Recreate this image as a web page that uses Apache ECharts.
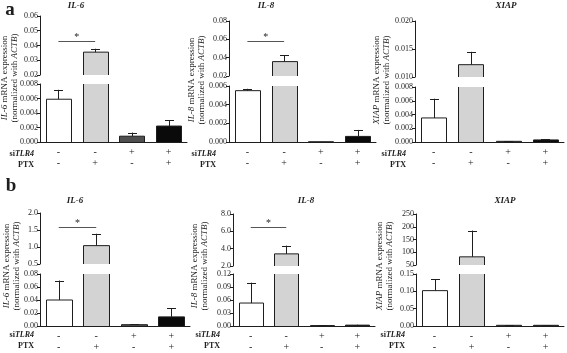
<!DOCTYPE html>
<html>
<head>
<meta charset="utf-8">
<script src="https://cdn.jsdelivr.net/npm/echarts@6/dist/echarts.min.js"></script>
<style>html,body{margin:0;padding:0;background:#fff}#c{width:567px;height:353px}</style>
</head>
<body>
<div id="c"></div>
<script>
// ---------- data ----------
const conditions = ['C1', 'C2', 'C3', 'C4'];
const siTLR4 = ['-', '-', '+', '+'];
const PTX = ['-', '+', '-', '+'];

// panel a
const aIL6Mean = [0.0059, 0.0355, 0.0008, 0.0022];
const aIL6Err = [0.0013, 0.0023, 0.0005, 0.0008];
const aIL6TopTicks = [0.02, 0.03, 0.04, 0.05, 0.06];
const aIL6BotTicks = [0, 0.002, 0.004, 0.006, 0.008];
const aIL6Sig = [0, 1, 0.043];

const aIL8Mean = [0.0055, 0.0357, 0.00003, 0.0006];
const aIL8Err = [0.0002, 0.0072, 0.00002, 0.0007];
const aIL8TopTicks = [0.02, 0.04, 0.06, 0.08];
const aIL8BotTicks = [0, 0.002, 0.004, 0.006];
const aIL8Sig = [0, 1, 0.058];

const aXIAPMean = [0.0035, 0.0122, 0.0001, 0.0003];
const aXIAPErr = [0.0028, 0.0023, 0.00005, 0.0001];
const aXIAPTopTicks = [0.010, 0.015, 0.020];
const aXIAPBotTicks = [0, 0.002, 0.004, 0.006, 0.008];

// panel b
const bIL6Mean = [0.040, 1.04, 0.002, 0.014];
const bIL6Err = [0.030, 0.35, 0.001, 0.013];
const bIL6TopTicks = [0.5, 1.0, 1.5, 2.0];
const bIL6BotTicks = [0, 0.02, 0.04, 0.06, 0.08];
const bIL6Sig = [0, 1, 1.6];

const bIL8Mean = [0.053, 3.4, 0.001, 0.002];
const bIL8Err = [0.047, 0.95, 0.0005, 0.001];
const bIL8TopTicks = [2, 4, 6, 8];
const bIL8BotTicks = [0, 0.03, 0.06, 0.09, 0.12];
const bIL8Sig = [0, 1, 6.5];

const bXIAPMean = [0.102, 82, 0.002, 0.002];
const bXIAPErr = [0.033, 103, 0.0005, 0.0005];
const bXIAPTopTicks = [50, 100, 150, 200, 250];
const bXIAPBotTicks = [0, 0.05, 0.10, 0.15];

// ---------- styling / layout ----------
const SERIF = '"Liberation Serif", "Times New Roman", serif';
const INK = '#1e1e1e';
const BAR_COLORS = ['#ffffff', '#d3d3d3', '#4f4f4f', '#0a0a0a'];

const panels = [
  {title: 'IL-6', mean: aIL6Mean, err: aIL6Err, top: aIL6TopTicks, bot: aIL6BotTicks, topDec: 2, botDec: 3, sig: aIL6Sig,
   left: 40, width: 147, y1: 16, y2: 75, y3: 84, y4: 142, nameX: 10, nameY: 78, titleX: 76, titleY: 6, rowRight: 34, rowY: 154},
  {title: 'IL-8', mean: aIL8Mean, err: aIL8Err, top: aIL8TopTicks, bot: aIL8BotTicks, topDec: 2, botDec: 3, sig: aIL8Sig,
   left: 229, width: 147, y1: 21, y2: 76, y3: 86, y4: 142, nameX: 197, nameY: 80, titleX: 266, titleY: 6, rowRight: 216, rowY: 154},
  {title: 'XIAP', mean: aXIAPMean, err: aXIAPErr, top: aXIAPTopTicks, bot: aXIAPBotTicks, topDec: 3, botDec: 3, sig: null,
   left: 415, width: 149, y1: 21, y2: 77, y3: 87, y4: 142, nameX: 382, nameY: 80, titleX: 506, titleY: 6, rowRight: 406, rowY: 154},
  {title: 'IL-6', mean: bIL6Mean, err: bIL6Err, top: bIL6TopTicks, bot: bIL6BotTicks, topDec: 1, botDec: 2, sig: bIL6Sig,
   left: 40, width: 150, y1: 213, y2: 264, y3: 274, y4: 326, nameX: 12, nameY: 266, titleX: 75, titleY: 201, rowRight: 34, rowY: 335},
  {title: 'IL-8', mean: bIL8Mean, err: bIL8Err, top: bIL8TopTicks, bot: bIL8BotTicks, topDec: 1, botDec: 2, sig: bIL8Sig,
   left: 233, width: 142, y1: 214, y2: 266, y3: 274, y4: 326, nameX: 200, nameY: 266, titleX: 306, titleY: 201, rowRight: 220, rowY: 335},
  {title: 'XIAP', mean: bXIAPMean, err: bXIAPErr, top: bXIAPTopTicks, bot: bXIAPBotTicks, topDec: 0, botDec: 2, sig: null,
   left: 416, width: 148, y1: 214, y2: 265, y3: 274, y4: 326, nameX: 385, nameY: 266, titleX: 505, titleY: 201, rowRight: 405, rowY: 335}
];

function fontStr(st, wt, sz) { return st + ' ' + wt + ' ' + sz + 'px ' + SERIF; }
function tok(st, wt, sz, lh) {
  return {fontStyle: st, fontWeight: wt, fontSize: sz, fontFamily: SERIF, font: fontStr(st, wt, sz), fill: INK, lineHeight: lh || sz + 1};
}
function textEl(opt) {
  const st = opt.st || 'normal', wt = opt.wt || 'normal', sz = opt.sz || 8;
  return {
    type: 'text', x: opt.x, y: opt.y, rotation: opt.rot || 0, silent: true,
    style: {
      text: opt.text, x: 0, y: 0, fill: INK,
      fontStyle: st, fontWeight: wt, fontSize: sz, fontFamily: SERIF, font: fontStr(st, wt, sz),
      align: opt.align || 'center', verticalAlign: opt.va || 'middle',
      textAlign: opt.align || 'center', textVerticalAlign: opt.va || 'middle',
      lineHeight: opt.lh || sz + 1, rich: opt.rich
    }
  };
}

function barRender(params, api) {
  const i = api.value(0), v = api.value(1);
  const cs = params.coordSys;
  const base = api.coord([i, 0]), tip = api.coord([i, v]);
  const w = Math.round(api.size([1, 0])[0] * 0.68);
  const gTop = cs.y, gBot = cs.y + cs.height;
  let y1 = tip[1], y0 = Math.min(base[1], gBot);
  const capped = y1 >= gTop - 0.01;
  y1 = Math.max(y1, gTop);
  if (y0 - y1 <= 0.01) return null;
  const x0 = Math.round(base[0] - w / 2) + 0.5, x1 = x0 + w;
  const line = {stroke: INK, lineWidth: 1, fill: null};
  const children = [{type: 'rect', shape: {x: x0, y: y1, width: w, height: y0 - y1}, style: {fill: BAR_COLORS[i]}}];
  if (capped) {
    children.push({type: 'polyline', shape: {points: [[x0, y0], [x0, y1], [x1, y1], [x1, y0]]}, style: line});
  } else {
    children.push({type: 'line', shape: {x1: x0, y1: y1, x2: x0, y2: y0}, style: line});
    children.push({type: 'line', shape: {x1: x1, y1: y1, x2: x1, y2: y0}, style: line});
  }
  return {type: 'group', children: children};
}

function errRender(params, api) {
  const i = api.value(0), m = api.value(1), e = api.value(2);
  const cs = params.coordSys;
  const gTop = cs.y, gBot = cs.y + cs.height;
  const p0 = api.coord([i, m]), p1 = api.coord([i, m + e]);
  if (p0[1] < gTop || p1[1] > gBot) return null;
  const ya = Math.min(p0[1], gBot), yb = Math.max(p1[1], gTop);
  const x = Math.round(p0[0]) + 0.5;
  const line = {stroke: INK, lineWidth: 1};
  const children = [{type: 'line', shape: {x1: x, y1: ya, x2: x, y2: yb}, style: line}];
  if (p1[1] >= gTop) {
    const yc = Math.round(p1[1]) + 0.5;
    children.push({type: 'line', shape: {x1: x - 4.5, y1: yc, x2: x + 4.5, y2: yc}, style: line});
  }
  return {type: 'group', children: children};
}

function sigRender(params, api) {
  const a = api.coord([api.value(0), api.value(2)]);
  const b = api.coord([api.value(1), api.value(2)]);
  const y = Math.round(a[1]) + 0.5;
  return {type: 'group', children: [
    {type: 'line', shape: {x1: a[0], y1: y, x2: b[0], y2: y}, style: {stroke: '#555', lineWidth: 1}},
    {type: 'text', style: {text: '*', x: (a[0] + b[0]) / 2, y: y - 4, align: 'center', verticalAlign: 'middle',
      textAlign: 'center', textVerticalAlign: 'middle', fill: INK, font: fontStr('normal', 'normal', 10),
      fontSize: 10, fontFamily: SERIF}}
  ]};
}

const grid = [], xAxis = [], yAxis = [], series = [], graphic = [];
const r10 = v => +v.toFixed(10);

panels.forEach((p, k) => {
  const gi = 2 * k;
  grid.push({left: p.left, width: p.width, top: p.y1, height: p.y2 - p.y1, containLabel: false});
  grid.push({left: p.left, width: p.width, top: p.y3, height: p.y4 - p.y3, containLabel: false});
  xAxis.push({type: 'category', data: conditions, gridIndex: gi, show: false});
  xAxis.push({type: 'category', data: conditions, gridIndex: gi + 1,
    axisLine: {lineStyle: {color: INK, width: 1}}, axisTick: {show: false},
    axisLabel: {formatter: (v, idx) => siTLR4[idx] + '\n' + PTX[idx], fontFamily: SERIF, fontSize: 10,
      color: INK, lineHeight: 11, margin: 5, interval: 0}});
  [[p.top, p.topDec, gi], [p.bot, p.botDec, gi + 1]].forEach(([ticks, dec, g]) => {
    yAxis.push({type: 'value', gridIndex: g, min: ticks[0], max: ticks[ticks.length - 1],
      interval: r10(ticks[1] - ticks[0]),
      axisLine: {show: true, lineStyle: {color: INK, width: 1}},
      axisTick: {show: true, length: 3, lineStyle: {color: INK}},
      splitLine: {show: false},
      axisLabel: {formatter: v => v.toFixed(dec), fontFamily: SERIF, fontSize: 8, color: INK, margin: 2}});
  });
  [gi, gi + 1].forEach(g => {
    series.push({type: 'custom', xAxisIndex: g, yAxisIndex: g, renderItem: barRender,
      data: p.mean.map((v, i) => [i, v]), silent: true});
    series.push({type: 'custom', xAxisIndex: g, yAxisIndex: g, renderItem: errRender,
      data: p.mean.map((v, i) => [i, v, p.err[i]]), silent: true, z: 3});
  });
  if (p.sig) {
    series.push({type: 'custom', xAxisIndex: gi, yAxisIndex: gi, renderItem: sigRender,
      encode: {x: 0, y: 2}, data: [p.sig], silent: true});
  }
  graphic.push(textEl({text: p.title, x: p.titleX, y: p.titleY, st: 'italic', wt: 'bold', sz: 9}));
  const gene = p.title;
  graphic.push(textEl({text: '{i|' + gene + '}{n| mRNA expression}\n{n|(normalized with }{i|ACTB}{n|)}',
    x: p.nameX, y: p.nameY, rot: Math.PI / 2, sz: 9, lh: 10,
    rich: {i: tok('italic', 'normal', 9, 10), n: tok('normal', 'normal', 9, 10)}}));
  graphic.push(textEl({text: '{b|si}{bi|TLR4}', x: p.rowRight, y: p.rowY, align: 'right', sz: 8, wt: 'bold',
    rich: {b: tok('normal', 'bold', 8), bi: tok('italic', 'bold', 8)}}));
  graphic.push(textEl({text: 'PTX', x: p.rowRight, y: p.rowY + 11, align: 'right', sz: 8, wt: 'bold'}));
});

graphic.push(textEl({text: 'a', x: 10, y: 10, wt: 'bold', sz: 19}));
graphic.push(textEl({text: 'b', x: 11, y: 186, wt: 'bold', sz: 19}));

const chart = echarts.init(document.getElementById('c'), null, {renderer: 'canvas'});
chart.setOption({animation: false, backgroundColor: '#ffffff', grid, xAxis, yAxis, series, graphic});
</script>
</body>
</html>
